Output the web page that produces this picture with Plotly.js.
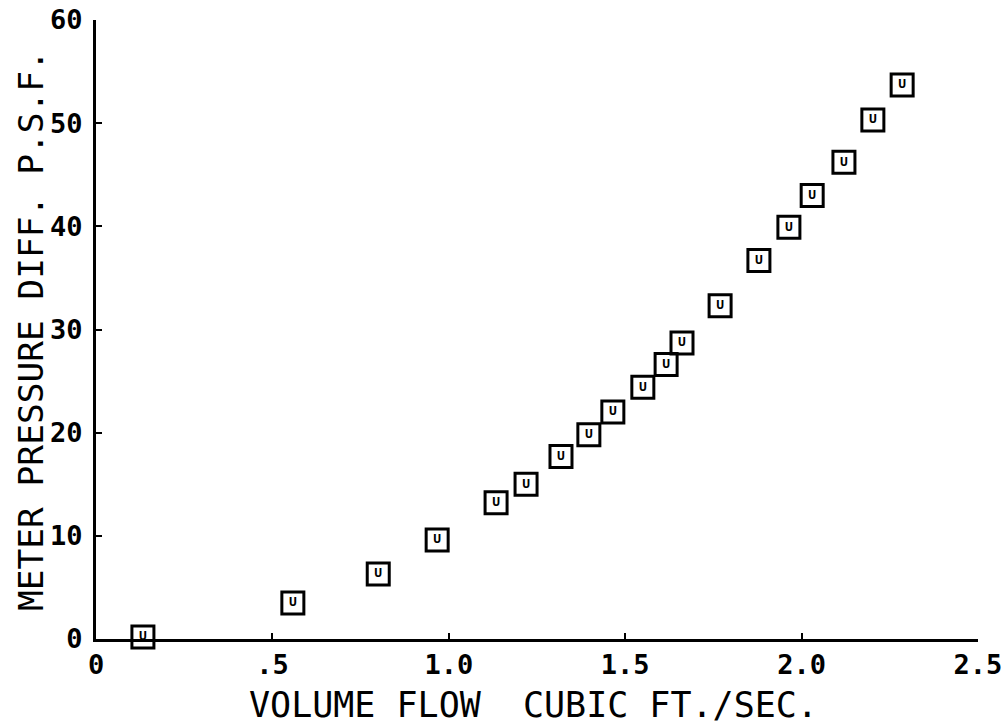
<!DOCTYPE html>
<html>
<head>
<meta charset="utf-8">
<script src="https://cdn.plot.ly/plotly-3.0.1.min.js"></script>
<style>html,body{margin:0;padding:0;background:#fff}#chart{width:1007px;height:725px}</style>
</head>
<body>
<div id="chart"></div>
<script>
const flow = [0.133, 0.558, 0.80, 0.967, 1.134, 1.219, 1.318, 1.397, 1.465, 1.55, 1.616, 1.661, 1.769, 1.879, 1.964, 2.03, 2.12, 2.202, 2.285];
const pressure = [0.2, 3.5, 6.3, 9.6, 13.2, 15.0, 17.7, 19.8, 22.0, 24.4, 26.6, 28.7, 32.3, 36.7, 39.9, 43.0, 46.2, 50.3, 53.7];
const xTickVals = [0, 0.5, 1.0, 1.5, 2.0, 2.5];
const xTickText = ["0", ".5", "1.0", "1.5", "2.0", "2.5"];
const yTickVals = [0, 10, 20, 30, 40, 50, 60];
const yTickText = ["0", "10", "20", "30", "40", "50", "60"];
const xTitle = "VOLUME FLOW  CUBIC FT./SEC.";
const yTitle = "METER PRESSURE DIFF. P.S.F.";

const FONT = "DejaVu Sans Mono, monospace";

const trace = {
  x: flow, y: pressure,
  mode: "markers+text",
  type: "scatter",
  text: flow.map(() => "U"),
  textposition: "middle center",
  textfont: {family: FONT, size: 13, color: "#000", weight: "bold"},
  marker: {symbol: "square-open", size: 22, color: "#000", line: {width: 3, color: "#000"}},
  cliponaxis: false,
  hoverinfo: "x+y"
};

const layout = {
  width: 1007, height: 725,
  margin: {l: 96, r: 29, t: 20, b: 86},
  paper_bgcolor: "#fff", plot_bgcolor: "#fff",
  showlegend: false,
  font: {family: FONT, color: "#000"},
  xaxis: {
    range: [0, 2.5], tickvals: xTickVals, ticktext: xTickText,
    showline: true, linecolor: "#000", linewidth: 3, mirror: false,
    ticks: "inside", ticklen: 6, tickwidth: 2, tickcolor: "#000",
    showgrid: false, zeroline: false, ticklabelstandoff: 0,
    tickfont: {family: FONT, size: 27, color: "#000", weight: "bold"}
  },
  yaxis: {
    range: [0, 60], tickvals: yTickVals, ticktext: yTickText,
    showline: true, linecolor: "#000", linewidth: 3, mirror: false,
    ticks: "inside", ticklen: 6, tickwidth: 2, tickcolor: "#000",
    showgrid: false, zeroline: false, ticklabelstandoff: 5,
    tickfont: {family: FONT, size: 27, color: "#000", weight: "bold"}
  },
  annotations: [
    {text: xTitle, xref: "paper", yref: "paper", x: 0.4955, y: -0.106,
     xanchor: "center", yanchor: "middle", showarrow: false,
     font: {family: FONT, size: 35, color: "#000"}},
    {text: yTitle, xref: "paper", yref: "paper", x: -0.0745, y: 0.498,
     xanchor: "center", yanchor: "middle", showarrow: false, textangle: -90,
     font: {family: FONT, size: 34.5, color: "#000"}}
  ]
};

Plotly.newPlot("chart", [trace], layout, {displayModeBar: false, staticPlot: true});
</script>
</body>
</html>
